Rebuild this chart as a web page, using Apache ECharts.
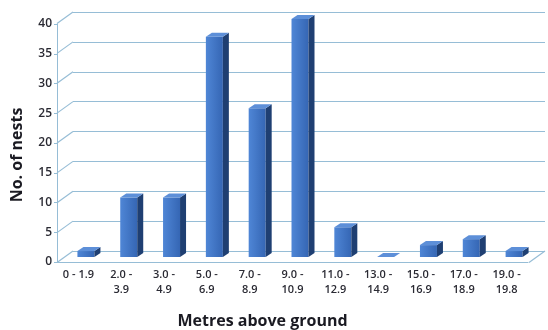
<!DOCTYPE html>
<html>
<head>
<meta charset="utf-8">
<script src="https://cdn.jsdelivr.net/npm/echarts@6/dist/echarts.min.js"></script>
<style>
  html, body { margin: 0; padding: 0; background: #fff; }
  #chart { width: 548px; height: 330px; }
</style>
</head>
<body>
<div id="chart"></div>
<script>
// data
const categories = ['0 - 1.9', '2.0 -\n3.9', '3.0 -\n4.9', '5.0 -\n6.9', '7.0 -\n8.9', '9.0 -\n10.9',
  '11.0 -\n12.9', '13.0 -\n14.9', '15.0 -\n16.9', '17.0 -\n18.9', '19.0 -\n19.8'];
const nests = [1, 10, 10, 37, 25, 40, 5, 0, 2, 3, 1];
const yTicks = [0, 5, 10, 15, 20, 25, 30, 35, 40];

const gridColor = '#96bdd6';
const textColor = '#2a2a33';
const font = '"Open Sans", "Liberation Sans", sans-serif';

// 3D look: depth offset between front axis and back wall
const depthX = 16;
const depthY = -11.5;

const myChart = echarts.init(document.getElementById('chart'));

const option = {
  animation: false,
  grid: [
    // front plane (axis labels + bars)
    { left: 57, right: 20, top: 24, bottom: 68, outerBoundsMode: 'none' },
    // back wall (gridlines)
    { left: 73, right: 3, top: 12, bottom: 79, outerBoundsMode: 'none' }
  ],
  xAxis: [
    {
      type: 'category',
      gridIndex: 0,
      data: categories,
      name: 'Metres above ground',
      nameLocation: 'middle',
      nameGap: 51,
      nameTextStyle: {
        color: '#1a1a22', fontSize: 16, fontWeight: 'bold', fontFamily: font,
        padding: [0, 60, 0, 0]
      },
      axisLine: { lineStyle: { color: gridColor, width: 1 } },
      axisTick: { length: 4, lineStyle: { color: gridColor } },
      axisLabel: {
        color: textColor, fontSize: 11, fontWeight: 600, fontFamily: font,
        lineHeight: 15, margin: 5, interval: 0
      }
    },
    { type: 'value', gridIndex: 1, min: 0, max: 11, show: false }
  ],
  yAxis: [
    {
      type: 'value',
      gridIndex: 0,
      min: 0, max: 40, interval: 5,
      name: 'No. of nests',
      nameLocation: 'middle',
      nameRotate: 90,
      nameGap: 32,
      nameTextStyle: {
        color: '#1a1a22', fontSize: 16, fontWeight: 'bold', fontFamily: font,
        padding: [0, 24, 0, 0]
      },
      axisLine: { show: true, lineStyle: { color: gridColor } },
      axisTick: { show: true, length: 3, lineStyle: { color: gridColor } },
      splitLine: { show: false },
      axisLabel: { color: textColor, fontSize: 12, fontWeight: 600, fontFamily: font, margin: 5 }
    },
    {
      type: 'value',
      gridIndex: 1,
      min: 0, max: 40, interval: 5,
      axisLine: { show: false },
      axisTick: { show: false },
      axisLabel: { show: false },
      splitLine: { show: true, lineStyle: { color: gridColor, width: 1.2 } }
    }
  ],
  series: [
    {
      // diagonal connectors from front ticks to back wall + floor right edge
      type: 'custom',
      xAxisIndex: 1,
      yAxisIndex: 1,
      silent: true,
      data: yTicks.map(v => [0, v]).concat([[11, 0]]),
      renderItem: function (params, api) {
        const p = api.coord([api.value(0), api.value(1)]);
        return {
          type: 'line',
          shape: { x1: p[0], y1: p[1], x2: p[0] - depthX, y2: p[1] - depthY },
          style: { stroke: gridColor, lineWidth: 1.2 }
        };
      }
    },
    {
      type: 'custom',
      xAxisIndex: 0,
      yAxisIndex: 0,
      data: nests.map((v, i) => [i, v]),
      renderItem: function (params, api) {
        const base = api.coord([api.value(0), 0]);
        const top = api.coord([api.value(0), api.value(1)]);
        const cx = base[0] + 7.5;
        const w = 17;
        const dx = 6, dy = -4;
        const x0 = cx - w / 2, x1 = cx + w / 2;
        const yb = base[1] - 5;
        const yt = top[1] - 5;
        return {
          type: 'group',
          children: [
            {
              type: 'rect',
              shape: { x: x0, y: yt, width: w, height: yb - yt },
              style: {
                fill: new echarts.graphic.LinearGradient(0, 0, 1, 0, [
                  { offset: 0, color: '#4f86d6' },
                  { offset: 1, color: '#3566b4' }
                ])
              }
            },
            {
              type: 'polygon',
              shape: { points: [[x1, yt], [x1 + dx, yt + dy], [x1 + dx, yb + dy], [x1, yb]] },
              style: { fill: '#1f3f72' }
            },
            {
              type: 'polygon',
              shape: { points: [[x0, yt], [x1, yt], [x1 + dx, yt + dy], [x0 + dx, yt + dy]] },
              style: { fill: '#5d8fd8' }
            }
          ]
        };
      }
    }
  ]
};

myChart.setOption(option);
</script>
</body>
</html>
